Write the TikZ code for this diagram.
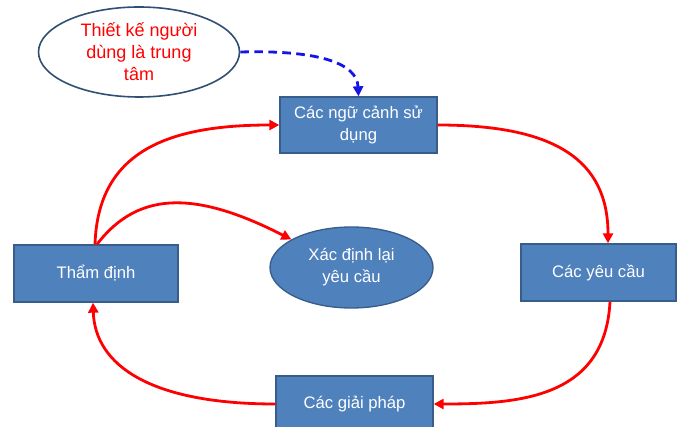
\documentclass[tikz,border=0pt]{standalone}
\usepackage{fontspec}
\setmainfont{Liberation Sans}
\usetikzlibrary{arrows.meta,shapes.geometric,calc}
\definecolor{boxfill}{HTML}{4F81BD}
\definecolor{boxline}{HTML}{385D8A}
\definecolor{dashblue}{HTML}{1414E6}
\tikzset{
  txt/.style={font=\fontsize{12.5}{16.5}\selectfont, align=center},
  bluebox/.style={txt, draw=boxline, line width=1pt, fill=boxfill, text=white, inner sep=0pt},
  blueell/.style={txt, ellipse, draw=boxline, line width=1pt, fill=boxfill, text=white, inner sep=0pt},
  whiteell/.style={ellipse, font=\fontsize{13.5}{16.5}\selectfont, align=center, draw=boxline!85!black, line width=1.2pt, fill=white, text=red, inner sep=0pt},
  redarrow/.style={draw=red, line width=2.1pt, -{Triangle[length=7.5pt,width=7.5pt]}},
  dasharrow/.style={draw=dashblue, line width=2.1pt, dash pattern=on 6.5pt off 4pt, -{Triangle[length=7.5pt,width=7.5pt]}}
}
\begin{document}
\begin{tikzpicture}[x=0.75pt,y=-0.75pt]
\useasboundingbox (0,0) rectangle (677,427);
\clip (0,0) rectangle (677,427);
\fill[white] (0,0) rectangle (677,427);
\node[whiteell, minimum width=150.75pt, minimum height=67.5pt] (ucd) at (139,52) {Thiết kế người\\dùng là trung\\tâm};
\node[bluebox, minimum width=117.75pt, minimum height=42pt] (ctx) at (358.5,125) {Các ngữ cảnh sử\\dụng};
\node[bluebox, minimum width=123pt, minimum height=42.75pt] (val) at (96,273.5) {Thẩm định};
\node[blueell, minimum width=122.25pt, minimum height=60.75pt] (redef) at (351.5,267.5) {Xác định lại\\yêu cầu};
\node[bluebox, minimum width=116.25pt, minimum height=42.75pt] (req) at (598.5,272.5) {Các yêu cầu};
\node[bluebox, minimum width=117.75pt, minimum height=42pt] (sol) at (354.5,404) {Các giải pháp};

\draw[redarrow] ($(val.north)+(-1,0)$) .. controls (98,150) and (170,125) .. (ctx.west);
\draw[redarrow] ($(val.north)+(1,0)$) .. controls (140,188) and (200,193) .. (redef.155);
\draw[redarrow] (ctx.east) .. controls (555,125) and (608,160) .. ($(req.north)+(9.5,0)$);
\draw[redarrow] ($(req.south)+(11.5,0)$) .. controls (605,398) and (520,404) .. (sol.east);
\draw[redarrow] (sol.west) .. controls (150,404) and (95,365) .. ($(val.south)+(-3,0)$);
\draw[dasharrow] (ucd.east) .. controls (315,50) and (357,62) .. (ctx.north);
\end{tikzpicture}
\end{document}
